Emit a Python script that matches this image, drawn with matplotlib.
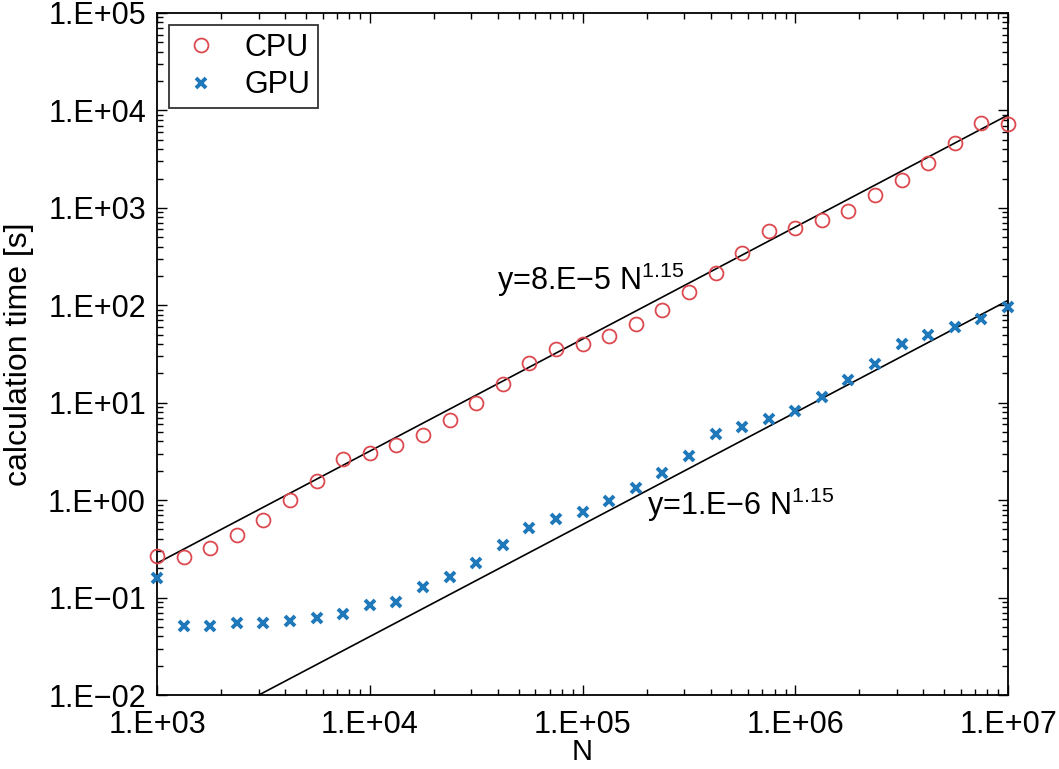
import numpy as np
import matplotlib
matplotlib.use('Agg')
import matplotlib.pyplot as plt
from matplotlib.ticker import LogLocator, FuncFormatter, NullFormatter

plt.rcParams['font.family'] = ['Liberation Sans', 'DejaVu Sans']
plt.rcParams['mathtext.fontset'] = 'custom'
plt.rcParams['mathtext.rm'] = 'Liberation Sans'
plt.rcParams['mathtext.it'] = 'Liberation Sans:italic'
plt.rcParams['mathtext.bf'] = 'Liberation Sans:bold'

# problem size N (8 points per decade)
n_values = [1000, 1334, 1778, 2371, 3162, 4217, 5623, 7499,
            10000, 13335, 17783, 23714, 31623, 42170, 56234, 74989,
            100000, 133352, 177828, 237137, 316228, 421697, 562341, 749894,
            1000000, 1333521, 1778279, 2371374, 3162278, 4216965, 5623413, 7498942,
            10000000]

# calculation time [s]
cpu_time = [0.266, 0.260, 0.321, 0.437, 0.624, 1.00, 1.57, 2.64,
            3.04, 3.67, 4.65, 6.63, 9.9, 15.5, 25.5, 35.5,
            40.0, 48.3, 64.1, 89.3, 137, 214, 344, 578,
            621, 750, 927, 1353, 1928, 2884, 4624, 7430,
            7250]
gpu_time = [0.158, 0.0508, 0.0508, 0.0546, 0.0550, 0.0573, 0.0615, 0.0676,
            0.0836, 0.0897, 0.127, 0.162, 0.225, 0.345, 0.516, 0.639,
            0.753, 0.977, 1.33, 1.89, 2.83, 4.76, 5.62, 6.79,
            8.20, 11.4, 17.1, 24.9, 40.0, 49.5, 59.7, 72.1,
            95.9]

# power-law fits y = a N^b
cpu_fit = (8e-5, 1.15)
gpu_fit = (1e-6, 1.15)


def exp_label(v, pos):
    e = int(round(np.log10(v)))
    sign = '+' if e >= 0 else '\u2212'
    return f'1.E{sign}{abs(e):02d}'


fig = plt.figure(figsize=(10.59, 7.69), dpi=100)
ax = fig.add_axes([0.1483, 0.0962, 0.8036, 0.8869])

n_line = np.array([1e3, 1e7])
ax.plot(n_line, cpu_fit[0] * n_line ** cpu_fit[1], color='black', lw=1.2, zorder=2)
ax.plot(n_line, gpu_fit[0] * n_line ** gpu_fit[1], color='black', lw=1.2, zorder=2)

ax.plot(n_values, cpu_time, 'o', mfc='none', mec='#dc4a50', ms=10, mew=1.3,
        label='CPU', zorder=3, clip_on=False)
ax.plot(n_values, gpu_time, 'x', color='#1f78b9', ms=7, mew=2.8,
        label='GPU', zorder=3, clip_on=False)

ax.set_xscale('log')
ax.set_yscale('log')
ax.set_xlim(1e3, 1e7)
ax.set_ylim(1e-2, 1e5)

for axis in (ax.xaxis, ax.yaxis):
    axis.set_major_locator(LogLocator(base=10, numticks=20))
    axis.set_minor_locator(LogLocator(base=10, subs=np.arange(2, 10), numticks=20))
    axis.set_major_formatter(FuncFormatter(exp_label))
    axis.set_minor_formatter(NullFormatter())

ax.tick_params(which='both', direction='in', top=True, right=True, width=1.0)
ax.tick_params(which='major', length=7, labelsize=22)
ax.tick_params(which='minor', length=4)
ax.tick_params(axis='y', which='major', pad=8)
ax.tick_params(axis='x', which='major', pad=11)
for s in ax.spines.values():
    s.set_linewidth(1.3)

# x label placed just under the tick labels, as in the original
fig.text(0.5496, 1 - 760 / 769, 'N', fontsize=21, ha='center', va='baseline')
ax.set_ylabel('calculation time [s]', fontsize=23, labelpad=10)

ax.text(3.95e4, 143, 'y=8.E\u22125 $\\mathregular{N^{1.15}}$', fontsize=22,
        va='baseline', ha='left')
ax.text(2.0e5, 0.70, 'y=1.E\u22126 $\\mathregular{N^{1.15}}$', fontsize=22,
        va='baseline', ha='left')

leg = ax.legend(loc='upper left', fontsize=22, frameon=True, fancybox=False,
                edgecolor='black', borderaxespad=0.4, handletextpad=0.6,
                labelspacing=0.25, borderpad=0.25, handlelength=1.6)
leg.get_frame().set_linewidth(1.3)

fig.savefig('out.png', dpi=100)
